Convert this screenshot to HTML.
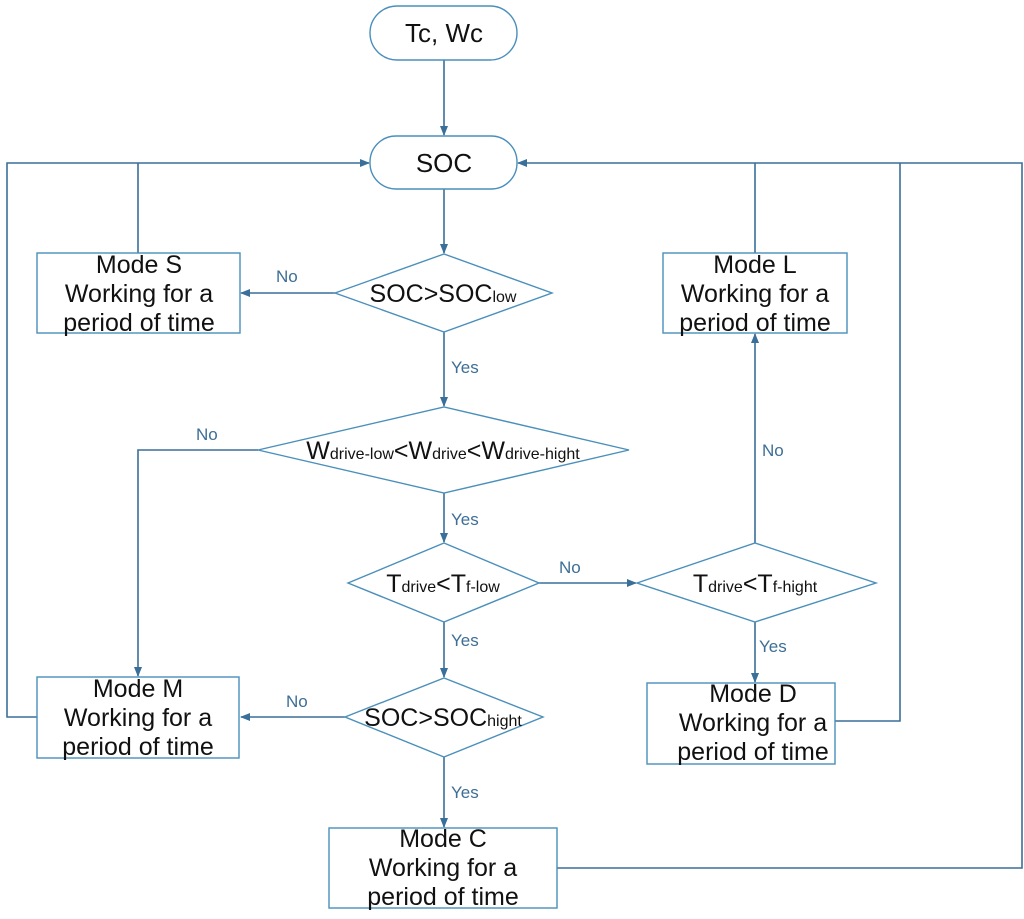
<!DOCTYPE html>
<html><head><meta charset="utf-8"><style>
html,body{margin:0;padding:0;background:#fff;}
svg{display:block;}
text{font-family:"Liberation Sans",Arial,sans-serif;}
.t{font-size:25px;fill:#111;text-anchor:middle;}
.s{font-size:16px;}
.l{font-size:17px;fill:#3d6e96;}
</style></head><body>
<svg width="1024" height="919" viewBox="0 0 1024 919" xmlns="http://www.w3.org/2000/svg">
<defs>
<marker id="a" markerWidth="10" markerHeight="10" refX="9" refY="5" orient="auto" markerUnits="userSpaceOnUse">
<path d="M0,1 L10,5 L0,9 Z" fill="#3a6f99"/>
</marker>
</defs>
<g fill="none" stroke="#3a6f99" stroke-width="1.6">
<line x1="444" y1="60" x2="444" y2="135" marker-end="url(#a)"/>
<line x1="444" y1="189" x2="444" y2="253" marker-end="url(#a)"/>
<line x1="444" y1="332" x2="444" y2="406" marker-end="url(#a)"/>
<line x1="444" y1="493" x2="444" y2="542" marker-end="url(#a)"/>
<line x1="444" y1="622" x2="444" y2="677" marker-end="url(#a)"/>
<line x1="444" y1="757" x2="444" y2="827" marker-end="url(#a)"/>
<line x1="335" y1="293" x2="241" y2="293" marker-end="url(#a)"/>
<polyline points="258,450 138,450 138,676" marker-end="url(#a)"/>
<line x1="539" y1="583" x2="636" y2="583" marker-end="url(#a)"/>
<line x1="345" y1="717" x2="241" y2="717" marker-end="url(#a)"/>
<line x1="755" y1="543" x2="755" y2="334" marker-end="url(#a)"/>
<line x1="755" y1="622" x2="755" y2="682" marker-end="url(#a)"/>
<polyline points="37,717 7,717 7,163 369,163" marker-end="url(#a)"/>
<line x1="138" y1="253" x2="138" y2="163"/>
<polyline points="557,868 1022,868 1022,163 518,163" marker-end="url(#a)"/>
<line x1="755" y1="253" x2="755" y2="163"/>
<polyline points="835,721 900,721 900,163"/>
</g>
<g fill="#fff" stroke="#4a8fbb" stroke-width="1.4">
<rect x="370" y="6" width="147" height="54" rx="27"/>
<rect x="370" y="136" width="147" height="53" rx="26"/>
<rect x="37" y="253" width="203" height="80"/>
<rect x="663" y="253" width="184" height="80"/>
<rect x="37" y="677" width="202" height="81"/>
<rect x="647" y="683" width="188" height="81"/>
<rect x="329" y="828" width="228" height="80"/>
<polygon points="335,293 444,254 552,293 444,332"/>
<polygon points="258,450 444,407 629,450 444,493"/>
<polygon points="348,583 444,543 539,583 444,622"/>
<polygon points="637,583 755,543 876,583 755,622"/>
<polygon points="345,717 444,678 543,717 444,757"/>
</g>
<text class="t" x="444" y="42" style="font-size:26px">Tc, Wc</text>
<text class="t" x="444" y="172" style="font-size:26px">SOC</text>
<text class="t" x="139" y="273">Mode S</text><text class="t" x="139" y="302">Working for a</text><text class="t" x="139" y="331">period of time</text>
<text class="t" x="755" y="273">Mode L</text><text class="t" x="755" y="302">Working for a</text><text class="t" x="755" y="331">period of time</text>
<text class="t" x="138" y="697">Mode M</text><text class="t" x="138" y="726">Working for a</text><text class="t" x="138" y="755">period of time</text>
<text class="t" x="753" y="702">Mode D</text><text class="t" x="753" y="731">Working for a</text><text class="t" x="753" y="760">period of time</text>
<text class="t" x="443" y="847">Mode C</text><text class="t" x="443" y="876">Working for a</text><text class="t" x="443" y="905">period of time</text>
<text class="t" x="443" y="302">SOC&gt;SOC<tspan class="s">low</tspan></text>
<text class="t" x="443" y="459">W<tspan class="s">drive-low</tspan>&lt;W<tspan class="s">drive</tspan>&lt;W<tspan class="s">drive-hight</tspan></text>
<text class="t" x="443" y="592">T<tspan class="s">drive</tspan>&lt;T<tspan class="s">f-low</tspan></text>
<text class="t" x="755" y="592">T<tspan class="s">drive</tspan>&lt;T<tspan class="s">f-hight</tspan></text>
<text class="t" x="443" y="726">SOC&gt;SOC<tspan class="s">hight</tspan></text>
<text class="l" x="276" y="282">No</text>
<text class="l" x="451" y="373">Yes</text>
<text class="l" x="196" y="440">No</text>
<text class="l" x="451" y="525">Yes</text>
<text class="l" x="559" y="573">No</text>
<text class="l" x="451" y="646">Yes</text>
<text class="l" x="286" y="707">No</text>
<text class="l" x="762" y="456">No</text>
<text class="l" x="759" y="652">Yes</text>
<text class="l" x="451" y="798">Yes</text>
</svg>
</body></html>
